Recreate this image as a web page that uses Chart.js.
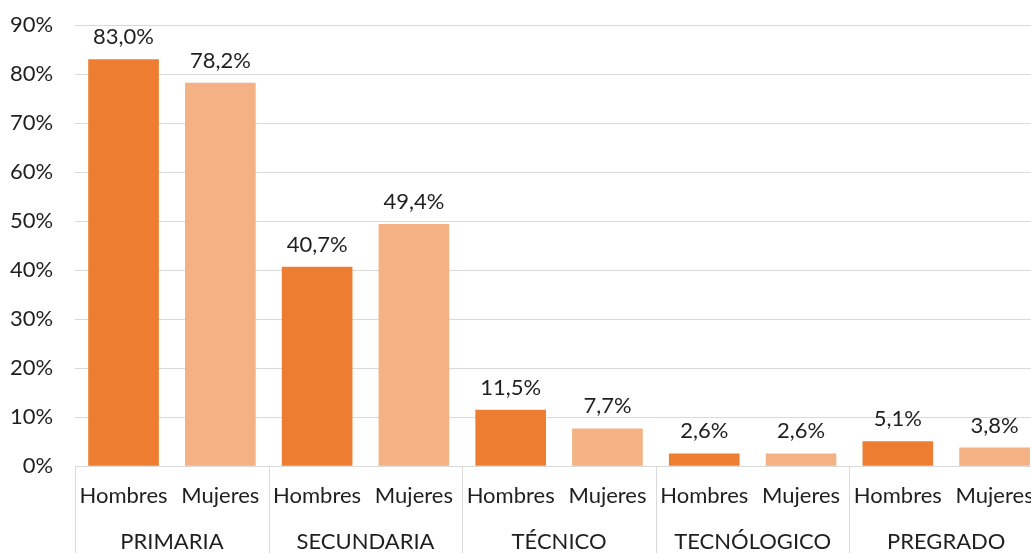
<!DOCTYPE html>
<html>
<head>
<meta charset="utf-8">
<script src="https://cdn.jsdelivr.net/npm/chart.js@4"></script>
<style>
  html, body { margin: 0; padding: 0; background: #fff; overflow: hidden; }
</style>
</head>
<body>
<canvas id="chart" width="1046" height="555"></canvas>
<script>
// ------- Data ---------------------------------------------------------------
const GROUPS  = ['PRIMARIA', 'SECUNDARIA', 'TÉCNICO', 'TECNÓLOGICO', 'PREGRADO'];
const SEXES   = ['Hombres', 'Mujeres'];
const HOMBRES = [83.0, 40.7, 11.5, 2.6, 5.1];
const MUJERES = [78.2, 49.4, 7.7, 2.6, 3.8];
const Y_TICKS = [0, 10, 20, 30, 40, 50, 60, 70, 80, 90];

const DARK  = '#ED7D31';
const LIGHT = '#F4B183';
const TEXT  = '#1f1f1f';
const FONT  = 'Lato, "Open Sans", sans-serif';
const SIZE  = 22;

// one bar per (group, sex) pair
const labels = [], values = [], colours = [];
GROUPS.forEach((g, i) => {
  labels.push(SEXES[0]); values.push(HOMBRES[i]); colours.push(DARK);
  labels.push(SEXES[1]); values.push(MUJERES[i]); colours.push(LIGHT);
});

// value labels above each bar, "83,0%"
const valueLabels = {
  id: 'valueLabels',
  afterDatasetsDraw (chart) {
    const { ctx } = chart;
    const meta = chart.getDatasetMeta(0);
    ctx.save();
    ctx.font = SIZE + 'px ' + FONT;
    ctx.fillStyle = TEXT;
    ctx.textAlign = 'center';
    ctx.textBaseline = 'alphabetic';
    meta.data.forEach((bar, i) => {
      const txt = values[i].toFixed(1).replace('.', ',') + '%';
      ctx.fillText(txt, bar.x, bar.y - 15);
    });
    ctx.restore();
  }
};

// vertical separators between the groups, below the axis
const groupLines = {
  id: 'groupLines',
  afterDraw (chart) {
    const { ctx, chartArea } = chart;
    const x = chart.scales.x;
    const half = (x.getPixelForValue(1) - x.getPixelForValue(0)) / 2;
    ctx.save();
    ctx.strokeStyle = '#d9d9d9';
    ctx.lineWidth = 1;
    for (let i = 0; i <= labels.length; i += 2) {
      const px = Math.round(x.getPixelForValue(i) - half) + 0.5;
      ctx.beginPath();
      ctx.moveTo(px, chartArea.bottom);
      ctx.lineTo(px, chart.height);
      ctx.stroke();
    }
    ctx.restore();
  }
};

new Chart(document.getElementById('chart').getContext('2d'), {
  type: 'bar',
  data: {
    labels,
    datasets: [{
      data: values,
      backgroundColor: colours,
      borderWidth: 0,
      categoryPercentage: 1,
      barPercentage: 0.73
    }]
  },
  options: {
    responsive: false,
    animation: false,
    devicePixelRatio: 1,
    layout: { padding: { top: 25, left: 10, right: 3, bottom: 0 } },
    plugins: { legend: { display: false }, tooltip: { enabled: false } },
    scales: {
      x: {
        grid: { display: false, tickLength: 17 },
        border: { display: true, color: '#d9d9d9' },
        ticks: { color: TEXT, font: { family: FONT, size: SIZE }, padding: 0, maxRotation: 0, autoSkip: false }
      },
      groups: {
        type: 'category',
        position: 'bottom',
        labels: GROUPS,
        offset: true,
        grid: { display: false, tickLength: 19 },
        border: { display: false },
        ticks: { color: TEXT, font: { family: FONT, size: SIZE }, padding: 0, maxRotation: 0, autoSkip: false }
      },
      y: {
        min: 0,
        max: 90,
        afterBuildTicks (scale) { scale.ticks = Y_TICKS.map(v => ({ value: v })); },
        grid: { color: '#d9d9d9', tickLength: 22, tickColor: 'rgba(0,0,0,0)' },
        border: { display: false },
        ticks: { color: TEXT, font: { family: FONT, size: SIZE }, padding: 0, callback: v => v + '%' }
      }
    }
  },
  plugins: [valueLabels, groupLines]
});
</script>
</body>
</html>
